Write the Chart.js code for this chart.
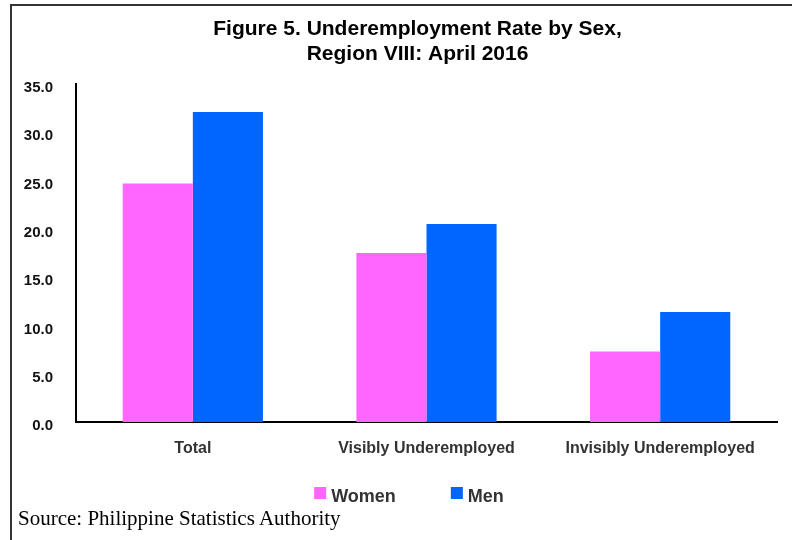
<!DOCTYPE html>
<html>
<head>
<meta charset="utf-8">
<script src="https://cdn.jsdelivr.net/npm/chart.js@4.4.1/dist/chart.umd.min.js"></script>
<style>
  html, body { margin: 0; padding: 0; background: #fff; }
  .wrap { position: relative; width: 792px; height: 540px; overflow: hidden; }
  .frame { position: absolute; left: 10px; top: 4px; width: 800px; height: 560px;
           border-top: 2px solid #333; border-left: 2px solid #333; }
  #chart { position: absolute; left: 0; top: 0; }
  .source { position: absolute; left: 18px; top: 509px; font: 21px/19px "Liberation Serif", "Times New Roman", serif;
            color: #000; white-space: nowrap; }
</style>
</head>
<body>
<div class="wrap">
  <div class="frame"></div>
  <canvas id="chart" width="792" height="540"></canvas>
  <div class="source">Source: Philippine Statistics Authority</div>
</div>
<script>
const categories = ['Total', 'Visibly Underemployed', 'Invisibly Underemployed'];
const women = [24.7, 17.5, 7.3];
const men = [32.1, 20.5, 11.4];
const yTicks = [0, 5, 10, 15, 20, 25, 30, 35];

const FONT = '"Liberation Sans", Arial, sans-serif';
Chart.defaults.font.family = FONT;

// title sits a bit right of the canvas centre, so nudge its box
const titleShift = {
  id: 'titleShift',
  afterLayout(chart) {
    if (chart.titleBlock) chart.titleBlock.left += 40;
  }
};

// legend row under the axis labels, square swatch + bold label
const legendRow = {
  id: 'legendRow',
  afterDraw(chart) {
    const { ctx, chartArea } = chart;
    const items = chart.data.datasets;
    ctx.save();
    ctx.font = 'bold 18px ' + FONT;
    ctx.textBaseline = 'middle';
    const box = 12, gap = 5, spacing = 55;
    let total = 0;
    items.forEach((ds, i) => {
      total += box + gap + ctx.measureText(ds.label).width + (i ? 0 : spacing);
    });
    let x = 409 - total / 2;
    const y = chartArea.bottom + 75;
    items.forEach(ds => {
      ctx.fillStyle = ds.backgroundColor;
      ctx.fillRect(x, y - 10, box, box);
      ctx.fillStyle = '#333';
      ctx.textAlign = 'left';
      ctx.fillText(ds.label, x + box + gap, y);
      x += box + gap + ctx.measureText(ds.label).width + spacing;
    });
    ctx.restore();
  }
};

new Chart(document.getElementById('chart'), {
  type: 'bar',
  data: {
    labels: categories,
    datasets: [
      { label: 'Women', data: women, backgroundColor: '#FF66FF', borderWidth: 0 },
      { label: 'Men', data: men, backgroundColor: '#0066FF', borderWidth: 0 }
    ]
  },
  options: {
    responsive: false,
    animation: false,
    categoryPercentage: 0.6,
    barPercentage: 1.0,
    layout: { padding: { left: 18, right: 15, top: 0, bottom: 0 } },
    plugins: {
      legend: { display: false },
      tooltip: { enabled: false },
      title: {
        display: true,
        text: ['Figure 5. Underemployment Rate by Sex,', 'Region VIII: April 2016'],
        color: '#000',
        font: { size: 21, weight: 'bold', lineHeight: 1.19 },
        padding: { top: 17, bottom: 17 }
      }
    },
    scales: {
      x: {
        grid: { display: false },
        border: { display: true, color: '#000', width: 2 },
        ticks: { color: '#333', padding: 9, font: { size: 16, weight: 'bold' } },
        afterFit(scale) { scale.height = 118; }
      },
      y: {
        min: 0,
        max: 35,
        grid: { display: false },
        border: { display: true, color: '#000', width: 2 },
        afterBuildTicks(scale) { scale.ticks = yTicks.map(v => ({ value: v })); },
        ticks: {
          color: '#111',
          padding: 15,
          labelOffset: 4,
          font: { size: 15, weight: 'bold' },
          callback: v => Number(v).toFixed(1)
        },
        afterFit(scale) { scale.width = 58; }
      }
    }
  },
  plugins: [titleShift, legendRow]
});
</script>
</body>
</html>
